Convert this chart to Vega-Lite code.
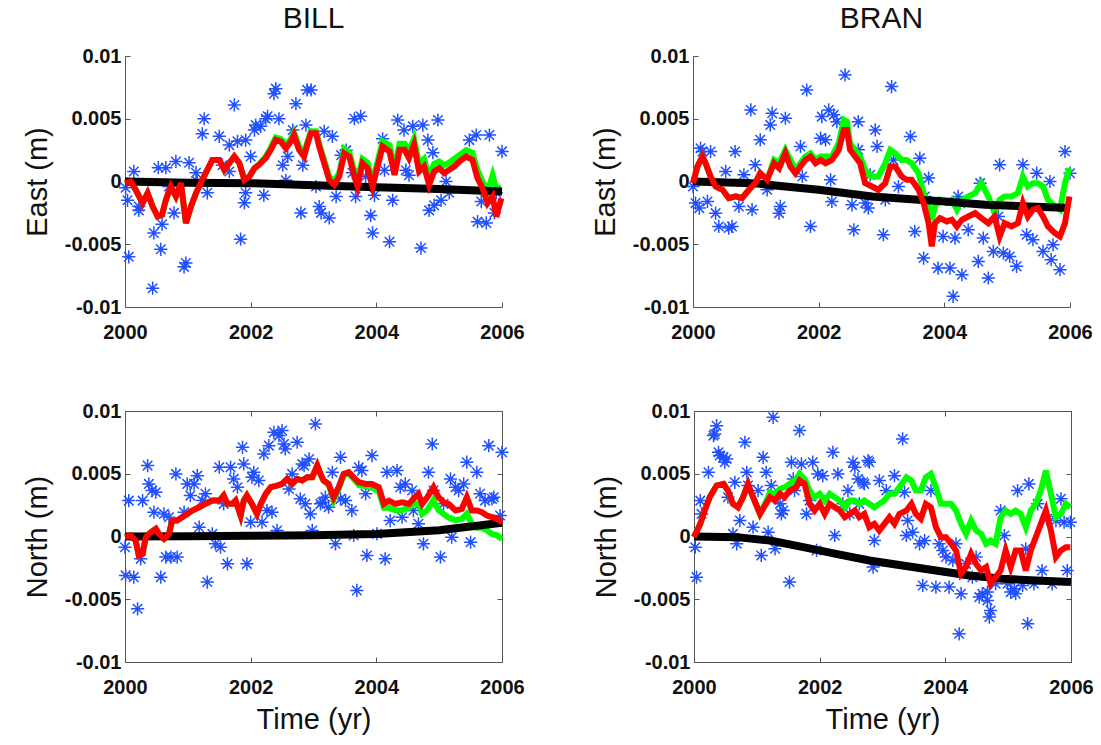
{
"$schema": "https://vega.github.io/schema/vega-lite/v6.json",
"background": "white",
"padding": {"left": 22, "top": 4, "right": 10, "bottom": 5},
"config": {
 "view": {"stroke": "#555", "strokeWidth": 1},
 "font": "Liberation Sans",
 "axis": {"grid": false, "domainColor": "#555", "tickColor": "#555", "tickSize": -5, "labelFont": "Liberation Sans", "labelFontSize": 20, "labelFontWeight": "bold", "labelColor": "#111", "titleFont": "Liberation Sans", "titleFontSize": 29, "titleFontWeight": "normal", "titleColor": "#111"},
 "axisX": {"labelPadding": 20, "titlePadding": 8, "labelFlush": false},
 "axisY": {"labelPadding": 9, "titlePadding": 12},
 "title": {"font": "Liberation Sans", "fontSize": 30, "fontWeight": "normal", "color": "#111", "offset": 12}
},
"datasets": {
"billE_pts": [
{"t":2000.14,"v":0.0008},{"t":2000.01,"v":-0.0005},{"t":2000.04,"v":-0.0015},{"t":2000.22,"v":-0.0023},{"t":2000.06,"v":-0.006},{"t":2000.44,"v":-0.0085},{"t":2000.46,"v":-0.0041},{"t":2000.57,"v":-0.0054},{"t":2000.59,"v":-0.0034},{"t":2000.53,"v":0.0011},{"t":2000.65,"v":0.0011},{"t":2000.81,"v":0.0016},{"t":2000.70,"v":-0.0004},{"t":2000.78,"v":-0.0025},{"t":2000.94,"v":-0.0068},{"t":2000.97,"v":-0.0065},{"t":2001.02,"v":0.0015},{"t":2001.13,"v":0.0007},{"t":2001.26,"v":0.005},{"t":2001.23,"v":0.0038},{"t":2001.31,"v":-0.0009},{"t":2001.50,"v":0.0036},{"t":2001.55,"v":0.0013},{"t":2001.66,"v":0.0029},{"t":2001.74,"v":0.0061},{"t":2001.79,"v":0.0032},{"t":2001.92,"v":0.0033},{"t":2001.84,"v":-0.0046},{"t":2001.90,"v":-0.0017},{"t":2001.92,"v":-0.0009},{"t":2002.00,"v":0.002},{"t":2002.06,"v":0.0041},{"t":2002.08,"v":0.0045},{"t":2002.16,"v":0.0044},{"t":2002.24,"v":0.005},{"t":2002.27,"v":0.0052},{"t":2002.21,"v":-0.0011},{"t":2002.40,"v":0.0074},{"t":2002.37,"v":0.007},{"t":2002.45,"v":0.005},{"t":2002.51,"v":0.0013},{"t":2002.56,"v":0.0001},{"t":2002.59,"v":0.002},{"t":2002.67,"v":0.0041},{"t":2002.72,"v":0.0062},{"t":2002.80,"v":-0.0025},{"t":2002.83,"v":0.0013},{"t":2002.88,"v":0.0045},{"t":2002.90,"v":0.0073},{"t":2002.96,"v":0.0073},{"t":2003.04,"v":-0.0004},{"t":2003.09,"v":-0.002},{"t":2003.12,"v":-0.0025},{"t":2003.17,"v":0.004},{"t":2003.25,"v":-0.0029},{"t":2003.30,"v":0.0036},{"t":2003.36,"v":-0.0012},{"t":2003.44,"v":0.0021},{"t":2003.52,"v":0.0025},{"t":2003.65,"v":0.005},{"t":2003.67,"v":-0.0012},{"t":2003.75,"v":0.0052},{"t":2003.83,"v":0.0004},{"t":2003.91,"v":-0.0027},{"t":2003.94,"v":-0.0041},{"t":2003.97,"v":-0.0011},{"t":2004.10,"v":0.0034},{"t":2004.13,"v":0.0009},{"t":2004.21,"v":-0.0048},{"t":2004.26,"v":-0.0015},{"t":2004.34,"v":0.0049},{"t":2004.44,"v":0.0041},{"t":2004.47,"v":0.0009},{"t":2004.52,"v":0.0005},{"t":2004.58,"v":0.0044},{"t":2004.71,"v":-0.0053},{"t":2004.74,"v":0.0045},{"t":2004.82,"v":0.0033},{"t":2004.84,"v":-0.0023},{"t":2004.90,"v":0.0023},{"t":2004.92,"v":-0.0019},{"t":2004.98,"v":0.0049},{"t":2005.03,"v":-0.0015},{"t":2005.16,"v":-0.0009},{"t":2005.48,"v":0.0033},{"t":2005.59,"v":0.0037},{"t":2005.61,"v":-0.0032},{"t":2005.75,"v":-0.0033},{"t":2005.80,"v":0.0037},{"t":2005.88,"v":-0.0025},{"t":2006.00,"v":0.0024},{"t":2005.91,"v":-0.0009},{"t":2005.67,"v":-0.0016},{"t":2005.11,"v":0.0},{"t":2003.62,"v":0.0007},{"t":2001.66,"v":0.0008},{"t":2001.15,"v":0.0},{"t":2000.22,"v":-0.002}
],
"billE_green": [
{"t":2000.00,"v":-0.00013},{"t":2000.09,"v":0.0},{"t":2000.17,"v":-0.00066},{"t":2000.28,"v":-0.00172},{"t":2000.36,"v":-0.00093},{"t":2000.44,"v":-0.00199},{"t":2000.52,"v":-0.00279},{"t":2000.59,"v":-0.00265},{"t":2000.65,"v":-0.00146},{"t":2000.73,"v":-0.0004},{"t":2000.81,"v":-0.00119},{"t":2000.89,"v":-0.00013},{"t":2000.97,"v":-0.00332},{"t":2001.05,"v":-0.00199},{"t":2001.13,"v":-0.00093},{"t":2001.23,"v":0.00013},{"t":2001.31,"v":0.00093},{"t":2001.39,"v":0.00172},{"t":2001.50,"v":0.00172},{"t":2001.58,"v":0.00093},{"t":2001.66,"v":0.00146},{"t":2001.74,"v":0.00199},{"t":2001.82,"v":0.00146},{"t":2001.90,"v":0.00013},{"t":2001.98,"v":0.0004},{"t":2002.06,"v":0.00106},{"t":2002.13,"v":0.00133},{"t":2002.24,"v":0.002},{"t":2002.32,"v":0.0027},{"t":2002.40,"v":0.0035},{"t":2002.48,"v":0.0034},{"t":2002.56,"v":0.0029},{"t":2002.64,"v":0.0034},{"t":2002.69,"v":0.0039},{"t":2002.77,"v":0.0028},{"t":2002.85,"v":0.0023},{"t":2002.90,"v":0.0031},{"t":2002.96,"v":0.004},{"t":2003.04,"v":0.004},{"t":2003.09,"v":0.003},{"t":2003.17,"v":0.0017},{"t":2003.25,"v":0.0004},{"t":2003.33,"v":0.0},{"t":2003.41,"v":0.0007},{"t":2003.49,"v":0.0026},{"t":2003.57,"v":0.0023},{"t":2003.65,"v":0.0008},{"t":2003.70,"v":0.0},{"t":2003.78,"v":0.0018},{"t":2003.86,"v":0.0015},{"t":2003.94,"v":0.0},{"t":2004.02,"v":0.0016},{"t":2004.10,"v":0.0032},{"t":2004.21,"v":0.0029},{"t":2004.29,"v":0.001},{"t":2004.37,"v":0.003},{"t":2004.45,"v":0.003},{"t":2004.52,"v":0.0024},{"t":2004.60,"v":0.0034},{"t":2004.68,"v":0.0014},{"t":2004.76,"v":0.0018},{"t":2004.84,"v":0.0004},{"t":2004.92,"v":0.0014},{"t":2005.00,"v":0.0016},{"t":2005.08,"v":0.0013},{"t":2005.16,"v":0.0015},{"t":2005.24,"v":0.0018},{"t":2005.32,"v":0.0021},{"t":2005.43,"v":0.0025},{"t":2005.53,"v":0.0023},{"t":2005.61,"v":0.0009},{"t":2005.69,"v":0.0},{"t":2005.77,"v":-0.0008},{"t":2005.85,"v":0.0005},{"t":2005.91,"v":-0.0006},{"t":2005.99,"v":-0.0005}
],
"billE_red": [
{"t":2000.00,"v":-0.00013},{"t":2000.09,"v":0.0},{"t":2000.17,"v":-0.00066},{"t":2000.28,"v":-0.00172},{"t":2000.36,"v":-0.00093},{"t":2000.44,"v":-0.00199},{"t":2000.52,"v":-0.00279},{"t":2000.59,"v":-0.00265},{"t":2000.65,"v":-0.00146},{"t":2000.73,"v":-0.0004},{"t":2000.81,"v":-0.00119},{"t":2000.89,"v":-0.00013},{"t":2000.97,"v":-0.00332},{"t":2001.05,"v":-0.00199},{"t":2001.13,"v":-0.00093},{"t":2001.23,"v":0.00013},{"t":2001.31,"v":0.00093},{"t":2001.39,"v":0.00172},{"t":2001.50,"v":0.00172},{"t":2001.58,"v":0.00093},{"t":2001.66,"v":0.00146},{"t":2001.74,"v":0.00199},{"t":2001.82,"v":0.00146},{"t":2001.90,"v":0.00013},{"t":2001.98,"v":0.0004},{"t":2002.06,"v":0.00106},{"t":2002.13,"v":0.00133},{"t":2002.24,"v":0.00186},{"t":2002.32,"v":0.00252},{"t":2002.40,"v":0.00332},{"t":2002.48,"v":0.00318},{"t":2002.56,"v":0.00265},{"t":2002.64,"v":0.00318},{"t":2002.69,"v":0.00371},{"t":2002.77,"v":0.00252},{"t":2002.85,"v":0.00199},{"t":2002.90,"v":0.00292},{"t":2002.96,"v":0.00385},{"t":2003.04,"v":0.00385},{"t":2003.09,"v":0.00279},{"t":2003.17,"v":0.00146},{"t":2003.25,"v":0.00013},{"t":2003.33,"v":-0.00027},{"t":2003.41,"v":0.0004},{"t":2003.49,"v":0.00225},{"t":2003.57,"v":0.00199},{"t":2003.65,"v":0.0004},{"t":2003.70,"v":-0.0004},{"t":2003.78,"v":0.00146},{"t":2003.86,"v":0.00106},{"t":2003.94,"v":-0.0004},{"t":2004.02,"v":0.00119},{"t":2004.10,"v":0.00279},{"t":2004.21,"v":0.00239},{"t":2004.29,"v":0.00053},{"t":2004.37,"v":0.00252},{"t":2004.45,"v":0.00252},{"t":2004.52,"v":0.00186},{"t":2004.60,"v":0.00292},{"t":2004.68,"v":0.0008},{"t":2004.76,"v":0.00119},{"t":2004.84,"v":-0.00027},{"t":2004.92,"v":0.0008},{"t":2005.00,"v":0.00106},{"t":2005.08,"v":0.00066},{"t":2005.16,"v":0.00093},{"t":2005.24,"v":0.00119},{"t":2005.32,"v":0.00159},{"t":2005.43,"v":0.00199},{"t":2005.53,"v":0.00172},{"t":2005.61,"v":0.00027},{"t":2005.69,"v":-0.00053},{"t":2005.77,"v":-0.00172},{"t":2005.85,"v":-0.00119},{"t":2005.91,"v":-0.00279},{"t":2005.99,"v":-0.00133}
],
"billE_black": [
{"t":2000,"v":0.0},{"t":2001,"v":-0.0001},{"t":2002,"v":-0.00013},{"t":2003,"v":-0.0003},{"t":2004,"v":-0.00045},{"t":2005,"v":-0.0006},{"t":2006,"v":-0.0008}
],
"branE_pts": [
{"t":2000.00,"v":-0.0004},{"t":2000.12,"v":0.00265},{"t":2000.15,"v":0.00239},{"t":2000.28,"v":0.00239},{"t":2000.04,"v":-0.00172},{"t":2000.10,"v":-0.00212},{"t":2000.23,"v":-0.00159},{"t":2000.36,"v":-0.00252},{"t":2000.41,"v":-0.00358},{"t":2000.57,"v":-0.00371},{"t":2000.62,"v":-0.00358},{"t":2000.52,"v":0.0008},{"t":2000.67,"v":0.00239},{"t":2000.81,"v":0.00053},{"t":2000.73,"v":-0.00199},{"t":2000.92,"v":0.0057},{"t":2000.94,"v":-0.00225},{"t":2000.99,"v":0.00133},{"t":2001.07,"v":0.00332},{"t":2001.23,"v":0.00451},{"t":2001.26,"v":0.00544},{"t":2001.47,"v":0.00504},{"t":2001.37,"v":-0.00252},{"t":2001.39,"v":-0.00199},{"t":2001.18,"v":-0.00066},{"t":2001.71,"v":0.00279},{"t":2001.74,"v":0.0004},{"t":2001.81,"v":0.00729},{"t":2001.87,"v":-0.00358},{"t":2002.03,"v":0.00345},{"t":2002.05,"v":0.00517},{"t":2002.11,"v":0.00332},{"t":2002.16,"v":0.0057},{"t":2002.19,"v":0.00013},{"t":2002.21,"v":-0.00159},{"t":2002.24,"v":0.00531},{"t":2002.29,"v":0.00477},{"t":2002.42,"v":0.00849},{"t":2002.53,"v":-0.00186},{"t":2002.56,"v":-0.00385},{"t":2002.63,"v":0.00477},{"t":2002.63,"v":0.00252},{"t":2002.74,"v":-0.00172},{"t":2002.79,"v":-0.00212},{"t":2002.82,"v":0.00053},{"t":2002.90,"v":0.00411},{"t":2002.93,"v":0.00279},{"t":2003.03,"v":-0.00424},{"t":2003.06,"v":-0.00146},{"t":2003.16,"v":0.00756},{"t":2003.19,"v":0.00172},{"t":2003.27,"v":-0.0004},{"t":2003.46,"v":0.00358},{"t":2003.53,"v":-0.00398},{"t":2003.61,"v":0.00186},{"t":2003.67,"v":-0.0061},{"t":2003.69,"v":-0.00119},{"t":2003.75,"v":0.00027},{"t":2003.90,"v":-0.0069},{"t":2003.98,"v":-0.00438},{"t":2004.09,"v":-0.0069},{"t":2004.17,"v":-0.00451},{"t":2004.14,"v":-0.00915},{"t":2004.22,"v":-0.00119},{"t":2004.28,"v":-0.00743},{"t":2004.38,"v":-0.00385},{"t":2004.54,"v":-0.00637},{"t":2004.57,"v":-0.00013},{"t":2004.62,"v":-0.00451},{"t":2004.70,"v":-0.00769},{"t":2004.78,"v":-0.00557},{"t":2004.88,"v":0.00133},{"t":2004.94,"v":-0.0057},{"t":2005.04,"v":-0.00597},{"t":2005.15,"v":-0.00676},{"t":2005.25,"v":0.00133},{"t":2005.31,"v":-0.00424},{"t":2005.41,"v":-0.00464},{"t":2005.47,"v":0.00066},{"t":2005.57,"v":-0.00557},{"t":2005.68,"v":0.0},{"t":2005.70,"v":-0.00623},{"t":2005.84,"v":-0.00703},{"t":2005.92,"v":0.00239},{"t":2006.00,"v":0.00066},{"t":2005.73,"v":-0.00504},{"t":2004.25,"v":-0.00172},{"t":2004.86,"v":-0.00279}
],
"branE_green": [
{"t":2000.00,"v":-0.00013},{"t":2000.07,"v":0.00119},{"t":2000.15,"v":0.00199},{"t":2000.20,"v":0.00146},{"t":2000.28,"v":0.0004},{"t":2000.36,"v":-0.0004},{"t":2000.47,"v":-0.00066},{"t":2000.57,"v":-0.00133},{"t":2000.68,"v":-0.00119},{"t":2000.78,"v":-0.00133},{"t":2000.89,"v":-0.00066},{"t":2000.99,"v":-0.00013},{"t":2001.07,"v":0.00066},{"t":2001.18,"v":0.00013},{"t":2001.29,"v":0.00172},{"t":2001.37,"v":0.00146},{"t":2001.47,"v":0.00252},{"t":2001.55,"v":0.00172},{"t":2001.63,"v":0.00093},{"t":2001.71,"v":0.00146},{"t":2001.79,"v":0.00199},{"t":2001.87,"v":0.00225},{"t":2001.95,"v":0.00172},{"t":2002.03,"v":0.00199},{"t":2002.11,"v":0.00199},{"t":2002.21,"v":0.00199},{"t":2002.32,"v":0.00305},{"t":2002.40,"v":0.00491},{"t":2002.45,"v":0.00477},{"t":2002.50,"v":0.00305},{"t":2002.58,"v":0.00252},{"t":2002.66,"v":0.00199},{"t":2002.74,"v":0.00093},{"t":2002.85,"v":0.0004},{"t":2002.95,"v":0.0004},{"t":2003.06,"v":0.00146},{"t":2003.14,"v":0.00252},{"t":2003.22,"v":0.00225},{"t":2003.32,"v":0.00172},{"t":2003.40,"v":0.00172},{"t":2003.48,"v":0.00146},{"t":2003.59,"v":0.00066},{"t":2003.67,"v":-0.00093},{"t":2003.75,"v":-0.00199},{"t":2003.80,"v":-0.00305},{"t":2003.85,"v":-0.00199},{"t":2003.93,"v":-0.00146},{"t":2004.04,"v":-0.00172},{"t":2004.12,"v":-0.00146},{"t":2004.20,"v":-0.00225},{"t":2004.28,"v":-0.00146},{"t":2004.38,"v":-0.00119},{"t":2004.49,"v":-0.00093},{"t":2004.59,"v":-0.00013},{"t":2004.70,"v":-0.00119},{"t":2004.80,"v":-0.00252},{"t":2004.88,"v":-0.00146},{"t":2004.96,"v":-0.00119},{"t":2005.07,"v":-0.00119},{"t":2005.17,"v":-0.00093},{"t":2005.25,"v":0.0004},{"t":2005.33,"v":-0.0004},{"t":2005.41,"v":-0.00013},{"t":2005.49,"v":-0.00013},{"t":2005.57,"v":-0.0004},{"t":2005.65,"v":-0.00146},{"t":2005.76,"v":-0.00199},{"t":2005.84,"v":-0.00225},{"t":2005.92,"v":-0.00013},{"t":2005.99,"v":0.00106}
],
"branE_red": [
{"t":2000.00,"v":-0.00013},{"t":2000.07,"v":0.00119},{"t":2000.15,"v":0.00199},{"t":2000.20,"v":0.00146},{"t":2000.28,"v":0.0004},{"t":2000.36,"v":-0.0004},{"t":2000.47,"v":-0.00066},{"t":2000.57,"v":-0.00133},{"t":2000.68,"v":-0.00119},{"t":2000.78,"v":-0.00133},{"t":2000.89,"v":-0.00066},{"t":2000.99,"v":-0.00013},{"t":2001.07,"v":0.00066},{"t":2001.18,"v":0.00013},{"t":2001.29,"v":0.00146},{"t":2001.37,"v":0.00106},{"t":2001.47,"v":0.00225},{"t":2001.55,"v":0.00119},{"t":2001.63,"v":0.00066},{"t":2001.71,"v":0.00119},{"t":2001.79,"v":0.00172},{"t":2001.87,"v":0.00199},{"t":2001.95,"v":0.00146},{"t":2002.03,"v":0.00172},{"t":2002.11,"v":0.00146},{"t":2002.21,"v":0.00172},{"t":2002.32,"v":0.00252},{"t":2002.40,"v":0.00411},{"t":2002.45,"v":0.00411},{"t":2002.50,"v":0.00252},{"t":2002.58,"v":0.00199},{"t":2002.66,"v":0.00146},{"t":2002.74,"v":-0.00013},{"t":2002.85,"v":-0.0004},{"t":2002.95,"v":-0.00066},{"t":2003.06,"v":-0.00013},{"t":2003.14,"v":0.00119},{"t":2003.22,"v":0.00119},{"t":2003.32,"v":0.0004},{"t":2003.40,"v":0.00013},{"t":2003.48,"v":0.00013},{"t":2003.59,"v":-0.00066},{"t":2003.67,"v":-0.00172},{"t":2003.75,"v":-0.00332},{"t":2003.80,"v":-0.00517},{"t":2003.85,"v":-0.00332},{"t":2003.93,"v":-0.00292},{"t":2004.04,"v":-0.00318},{"t":2004.12,"v":-0.00305},{"t":2004.20,"v":-0.00358},{"t":2004.28,"v":-0.00305},{"t":2004.38,"v":-0.00279},{"t":2004.49,"v":-0.00252},{"t":2004.59,"v":-0.00292},{"t":2004.70,"v":-0.00332},{"t":2004.80,"v":-0.00279},{"t":2004.88,"v":-0.00438},{"t":2004.96,"v":-0.00332},{"t":2005.07,"v":-0.00358},{"t":2005.17,"v":-0.00332},{"t":2005.25,"v":-0.00172},{"t":2005.33,"v":-0.00279},{"t":2005.41,"v":-0.00225},{"t":2005.49,"v":-0.00212},{"t":2005.57,"v":-0.00279},{"t":2005.65,"v":-0.00358},{"t":2005.76,"v":-0.00411},{"t":2005.84,"v":-0.00438},{"t":2005.92,"v":-0.00332},{"t":2005.99,"v":-0.00119}
],
"branE_black": [
{"t":2000,"v":0.0},{"t":2000.94,"v":-0.00013},{"t":2001.47,"v":-0.0004},{"t":2002.0,"v":-0.00066},{"t":2002.85,"v":-0.00119},{"t":2003.59,"v":-0.00146},{"t":2004.01,"v":-0.00159},{"t":2004.65,"v":-0.00186},{"t":2006,"v":-0.00212}
],
"billN_pts": [
{"t":2000.00,"v":-0.00085},{"t":2000.06,"v":0.00286},{"t":2000.01,"v":-0.0031},{"t":2000.14,"v":-0.00324},{"t":2000.20,"v":-0.00576},{"t":2000.25,"v":-0.00178},{"t":2000.28,"v":0.00286},{"t":2000.36,"v":0.00565},{"t":2000.38,"v":0.00419},{"t":2000.43,"v":0.00366},{"t":2000.49,"v":0.00353},{"t":2000.46,"v":0.00194},{"t":2000.57,"v":-0.00324},{"t":2000.62,"v":0.0018},{"t":2000.65,"v":-0.00164},{"t":2000.70,"v":0.00154},{"t":2000.73,"v":-0.00164},{"t":2000.83,"v":-0.00164},{"t":2000.81,"v":0.00499},{"t":2000.94,"v":0.00194},{"t":2000.99,"v":0.00419},{"t":2001.04,"v":0.00326},{"t":2001.10,"v":0.00419},{"t":2001.15,"v":0.00485},{"t":2001.18,"v":0.00074},{"t":2001.23,"v":0.00286},{"t":2001.28,"v":0.0034},{"t":2001.31,"v":-0.00363},{"t":2001.39,"v":0.00021},{"t":2001.44,"v":-0.00058},{"t":2001.50,"v":0.00552},{"t":2001.52,"v":-0.00085},{"t":2001.57,"v":0.0026},{"t":2001.63,"v":-0.00218},{"t":2001.68,"v":0.00552},{"t":2001.73,"v":0.00459},{"t":2001.79,"v":0.00393},{"t":2001.87,"v":0.00711},{"t":2001.89,"v":0.00578},{"t":2001.94,"v":-0.00218},{"t":2002.00,"v":0.00114},{"t":2002.02,"v":0.00472},{"t":2002.05,"v":0.00512},{"t":2002.13,"v":0.00446},{"t":2002.18,"v":0.00114},{"t":2002.21,"v":0.00658},{"t":2002.26,"v":0.00207},{"t":2002.29,"v":0.00724},{"t":2002.34,"v":0.00194},{"t":2002.37,"v":0.0083},{"t":2002.42,"v":0.00048},{"t":2002.45,"v":0.00804},{"t":2002.50,"v":0.00844},{"t":2002.53,"v":0.00737},{"t":2002.55,"v":0.00698},{"t":2002.61,"v":0.00379},{"t":2002.66,"v":0.00499},{"t":2002.74,"v":0.00751},{"t":2002.79,"v":0.003},{"t":2002.82,"v":0.00578},{"t":2002.85,"v":0.00565},{"t":2002.87,"v":0.0026},{"t":2002.93,"v":0.00618},{"t":2002.95,"v":0.0018},{"t":2002.98,"v":0.00048},{"t":2003.03,"v":0.00897},{"t":2003.11,"v":0.0026},{"t":2003.14,"v":0.00273},{"t":2003.19,"v":0.00313},{"t":2003.24,"v":0.00233},{"t":2003.30,"v":0.00512},{"t":2003.35,"v":-0.00058},{"t":2003.43,"v":0.00631},{"t":2003.43,"v":0.003},{"t":2003.51,"v":0.00286},{"t":2003.61,"v":0.00207},{"t":2003.64,"v":0.00008},{"t":2003.69,"v":-0.0043},{"t":2003.72,"v":0.00552},{"t":2003.77,"v":0.00525},{"t":2003.83,"v":0.0034},{"t":2003.85,"v":-0.00151},{"t":2003.93,"v":0.00645},{"t":2004.01,"v":0.00021},{"t":2004.14,"v":-0.00178},{"t":2004.17,"v":0.00512},{"t":2004.22,"v":0.00127},{"t":2004.33,"v":0.00525},{"t":2004.38,"v":0.00393},{"t":2004.41,"v":0.00154},{"t":2004.46,"v":0.00419},{"t":2004.57,"v":0.00366},{"t":2004.59,"v":0.00207},{"t":2004.67,"v":0.00101},{"t":2004.75,"v":-0.00058},{"t":2004.83,"v":0.00512},{"t":2004.89,"v":0.00737},{"t":2004.91,"v":0.00366},{"t":2005.02,"v":-0.00164},{"t":2005.07,"v":0.0026},{"t":2005.18,"v":0.00459},{"t":2005.20,"v":-0.00005},{"t":2005.26,"v":0.00393},{"t":2005.31,"v":0.00366},{"t":2005.39,"v":0.00419},{"t":2005.44,"v":0.00592},{"t":2005.50,"v":-0.00045},{"t":2005.60,"v":0.00512},{"t":2005.65,"v":0.0034},{"t":2005.73,"v":0.00286},{"t":2005.79,"v":0.00724},{"t":2005.84,"v":0.003},{"t":2005.87,"v":0.00313},{"t":2006.00,"v":0.00671},{"t":2005.97,"v":0.00167}
],
"billN_green": [
{"t":2000.00,"v":-0.00005},{"t":2000.09,"v":0.00008},{"t":2000.17,"v":-0.00032},{"t":2000.22,"v":-0.00151},{"t":2000.28,"v":-0.00138},{"t":2000.33,"v":-0.00005},{"t":2000.41,"v":0.00034},{"t":2000.49,"v":0.00061},{"t":2000.54,"v":0.00021},{"t":2000.62,"v":-0.00019},{"t":2000.70,"v":0.00021},{"t":2000.75,"v":0.00127},{"t":2000.83,"v":0.00127},{"t":2000.91,"v":0.00154},{"t":2000.99,"v":0.0018},{"t":2001.07,"v":0.00207},{"t":2001.18,"v":0.00233},{"t":2001.28,"v":0.0026},{"t":2001.39,"v":0.00286},{"t":2001.50,"v":0.00286},{"t":2001.57,"v":0.00326},{"t":2001.63,"v":0.0026},{"t":2001.71,"v":0.0026},{"t":2001.76,"v":0.00286},{"t":2001.84,"v":0.00167},{"t":2001.89,"v":0.00286},{"t":2001.94,"v":0.00326},{"t":2002.02,"v":0.0026},{"t":2002.10,"v":0.0018},{"t":2002.16,"v":0.0026},{"t":2002.24,"v":0.0034},{"t":2002.32,"v":0.00393},{"t":2002.42,"v":0.00406},{"t":2002.50,"v":0.00419},{"t":2002.58,"v":0.00459},{"t":2002.66,"v":0.00419},{"t":2002.74,"v":0.00459},{"t":2002.82,"v":0.00446},{"t":2002.90,"v":0.00472},{"t":2002.98,"v":0.00472},{"t":2003.06,"v":0.00565},{"t":2003.11,"v":0.00499},{"t":2003.16,"v":0.00446},{"t":2003.24,"v":0.00419},{"t":2003.32,"v":0.0029},{"t":2003.40,"v":0.0038},{"t":2003.48,"v":0.0049},{"t":2003.56,"v":0.005},{"t":2003.64,"v":0.0046},{"t":2003.72,"v":0.0041},{"t":2003.83,"v":0.004},{"t":2003.93,"v":0.0039},{"t":2004.04,"v":0.0036},{"t":2004.12,"v":0.0023},{"t":2004.20,"v":0.0023},{"t":2004.30,"v":0.0021},{"t":2004.41,"v":0.0021},{"t":2004.52,"v":0.0023},{"t":2004.59,"v":0.0026},{"t":2004.67,"v":0.0026},{"t":2004.73,"v":0.0018},{"t":2004.81,"v":0.0021},{"t":2004.91,"v":0.0029},{"t":2004.99,"v":0.0021},{"t":2005.07,"v":0.0018},{"t":2005.15,"v":0.0015},{"t":2005.26,"v":0.0013},{"t":2005.36,"v":0.0014},{"t":2005.44,"v":0.0018},{"t":2005.52,"v":0.001},{"t":2005.60,"v":0.0007},{"t":2005.68,"v":0.0007},{"t":2005.76,"v":0.0005},{"t":2005.84,"v":0.0002},{"t":2005.92,"v":0.0001},{"t":2006.00,"v":-0.0002}
],
"billN_red": [
{"t":2000.00,"v":-0.00005},{"t":2000.09,"v":0.00008},{"t":2000.17,"v":-0.00032},{"t":2000.22,"v":-0.00151},{"t":2000.28,"v":-0.00138},{"t":2000.33,"v":-0.00005},{"t":2000.41,"v":0.00034},{"t":2000.49,"v":0.00061},{"t":2000.54,"v":0.00021},{"t":2000.62,"v":-0.00019},{"t":2000.70,"v":0.00021},{"t":2000.75,"v":0.00127},{"t":2000.83,"v":0.00127},{"t":2000.91,"v":0.00154},{"t":2000.99,"v":0.0018},{"t":2001.07,"v":0.00207},{"t":2001.18,"v":0.00233},{"t":2001.28,"v":0.0026},{"t":2001.39,"v":0.00286},{"t":2001.50,"v":0.00286},{"t":2001.57,"v":0.00326},{"t":2001.63,"v":0.0026},{"t":2001.71,"v":0.0026},{"t":2001.76,"v":0.00286},{"t":2001.84,"v":0.00167},{"t":2001.89,"v":0.00286},{"t":2001.94,"v":0.00326},{"t":2002.02,"v":0.0026},{"t":2002.10,"v":0.0018},{"t":2002.16,"v":0.0026},{"t":2002.24,"v":0.0034},{"t":2002.32,"v":0.00393},{"t":2002.42,"v":0.00406},{"t":2002.50,"v":0.00419},{"t":2002.58,"v":0.00459},{"t":2002.66,"v":0.00419},{"t":2002.74,"v":0.00459},{"t":2002.82,"v":0.00446},{"t":2002.90,"v":0.00472},{"t":2002.98,"v":0.00472},{"t":2003.06,"v":0.00565},{"t":2003.11,"v":0.00499},{"t":2003.16,"v":0.00446},{"t":2003.24,"v":0.00419},{"t":2003.32,"v":0.00313},{"t":2003.40,"v":0.00393},{"t":2003.48,"v":0.00499},{"t":2003.56,"v":0.00512},{"t":2003.64,"v":0.00472},{"t":2003.72,"v":0.00432},{"t":2003.83,"v":0.00419},{"t":2003.93,"v":0.00419},{"t":2004.04,"v":0.00393},{"t":2004.12,"v":0.0026},{"t":2004.20,"v":0.00286},{"t":2004.30,"v":0.0026},{"t":2004.41,"v":0.00273},{"t":2004.52,"v":0.0026},{"t":2004.59,"v":0.003},{"t":2004.67,"v":0.0034},{"t":2004.73,"v":0.0026},{"t":2004.81,"v":0.00313},{"t":2004.91,"v":0.00393},{"t":2004.99,"v":0.00313},{"t":2005.07,"v":0.00273},{"t":2005.15,"v":0.0026},{"t":2005.26,"v":0.00207},{"t":2005.36,"v":0.0022},{"t":2005.44,"v":0.00313},{"t":2005.52,"v":0.00207},{"t":2005.60,"v":0.00207},{"t":2005.68,"v":0.00194},{"t":2005.76,"v":0.00167},{"t":2005.84,"v":0.00154},{"t":2005.92,"v":0.00141},{"t":2006.00,"v":0.00114}
],
"billN_black": [
{"t":2000,"v":0.0},{"t":2001,"v":0.00002},{"t":2002,"v":0.00005},{"t":2003,"v":0.0001},{"t":2004,"v":0.0002},{"t":2005,"v":0.0005},{"t":2006,"v":0.0011}
],
"branN_pts": [
{"t":2000.02,"v":-0.00085},{"t":2000.04,"v":-0.00324},{"t":2000.10,"v":0.00286},{"t":2000.12,"v":0.0018},{"t":2000.23,"v":0.00512},{"t":2000.31,"v":0.00804},{"t":2000.36,"v":0.00883},{"t":2000.33,"v":0.00817},{"t":2000.39,"v":0.00671},{"t":2000.41,"v":0.00645},{"t":2000.47,"v":0.00631},{"t":2000.49,"v":0.00592},{"t":2000.52,"v":0.00618},{"t":2000.54,"v":0.00313},{"t":2000.62,"v":0.00021},{"t":2000.65,"v":0.00432},{"t":2000.68,"v":-0.00058},{"t":2000.73,"v":0.00127},{"t":2000.81,"v":0.00751},{"t":2000.84,"v":0.00512},{"t":2000.86,"v":0.00406},{"t":2000.94,"v":0.00074},{"t":2001.02,"v":0.00366},{"t":2001.07,"v":-0.00151},{"t":2001.10,"v":0.00631},{"t":2001.15,"v":0.00512},{"t":2001.18,"v":0.00034},{"t":2001.23,"v":0.00406},{"t":2001.26,"v":0.0095},{"t":2001.29,"v":-0.00098},{"t":2001.37,"v":0.0026},{"t":2001.39,"v":0.0018},{"t":2001.42,"v":0.00207},{"t":2001.52,"v":-0.00363},{"t":2001.55,"v":0.00592},{"t":2001.58,"v":0.00459},{"t":2001.60,"v":0.00366},{"t":2001.68,"v":0.00844},{"t":2001.71,"v":0.00578},{"t":2001.79,"v":0.0018},{"t":2001.84,"v":0.00286},{"t":2001.89,"v":0.00592},{"t":2001.95,"v":-0.00111},{"t":2001.97,"v":0.00499},{"t":2002.05,"v":0.00485},{"t":2002.21,"v":0.00671},{"t":2002.24,"v":0.00008},{"t":2002.29,"v":0.00499},{"t":2002.37,"v":0.0026},{"t":2002.45,"v":0.00366},{"t":2002.48,"v":0.0018},{"t":2002.53,"v":0.00592},{"t":2002.56,"v":0.00552},{"t":2002.61,"v":0.00459},{"t":2002.63,"v":0.0026},{"t":2002.69,"v":0.00432},{"t":2002.71,"v":0.00419},{"t":2002.77,"v":0.00605},{"t":2002.79,"v":0.00592},{"t":2002.85,"v":-0.00244},{"t":2002.87,"v":-0.00032},{"t":2002.95,"v":0.00446},{"t":2003.06,"v":0.00366},{"t":2003.19,"v":0.00485},{"t":2003.32,"v":0.00777},{"t":2003.35,"v":0.00353},{"t":2003.38,"v":0.00008},{"t":2003.40,"v":0.00127},{"t":2003.48,"v":0.00034},{"t":2003.59,"v":-0.00058},{"t":2003.64,"v":-0.0039},{"t":2003.67,"v":-0.00032},{"t":2003.77,"v":0.00366},{"t":2003.85,"v":-0.00403},{"t":2003.90,"v":-0.00058},{"t":2003.96,"v":-0.00111},{"t":2004.01,"v":-0.00164},{"t":2004.06,"v":-0.00403},{"t":2004.12,"v":-0.00191},{"t":2004.17,"v":-0.00058},{"t":2004.22,"v":-0.00775},{"t":2004.25,"v":-0.00456},{"t":2004.33,"v":-0.00218},{"t":2004.43,"v":-0.00324},{"t":2004.49,"v":-0.00164},{"t":2004.54,"v":-0.00483},{"t":2004.59,"v":-0.00456},{"t":2004.67,"v":-0.00443},{"t":2004.67,"v":-0.00509},{"t":2004.70,"v":-0.00642},{"t":2004.72,"v":-0.00589},{"t":2004.80,"v":-0.00377},{"t":2004.88,"v":0.00207},{"t":2004.94,"v":0.00008},{"t":2004.99,"v":-0.00377},{"t":2005.04,"v":-0.00443},{"t":2005.10,"v":-0.00416},{"t":2005.12,"v":-0.00456},{"t":2005.15,"v":0.00366},{"t":2005.23,"v":-0.0039},{"t":2005.28,"v":-0.00098},{"t":2005.31,"v":-0.00695},{"t":2005.33,"v":0.00419},{"t":2005.41,"v":-0.00377},{"t":2005.47,"v":0.0026},{"t":2005.54,"v":-0.00271},{"t":2005.62,"v":0.00141},{"t":2005.70,"v":-0.00377},{"t":2005.76,"v":0.00127},{"t":2005.84,"v":0.003},{"t":2005.89,"v":0.00114},{"t":2005.94,"v":-0.00271},{"t":2005.99,"v":0.00114}
],
"branN_green": [
{"t":2000.00,"v":-0.00005},{"t":2000.10,"v":0.00101},{"t":2000.17,"v":0.00207},{"t":2000.25,"v":0.00313},{"t":2000.36,"v":0.00406},{"t":2000.47,"v":0.00419},{"t":2000.54,"v":0.00366},{"t":2000.62,"v":0.0026},{"t":2000.70,"v":0.00233},{"t":2000.78,"v":0.00313},{"t":2000.86,"v":0.00419},{"t":2000.94,"v":0.00313},{"t":2001.05,"v":0.0018},{"t":2001.13,"v":0.0026},{"t":2001.21,"v":0.00353},{"t":2001.29,"v":0.0034},{"t":2001.37,"v":0.00379},{"t":2001.44,"v":0.00393},{"t":2001.52,"v":0.00419},{"t":2001.63,"v":0.00459},{"t":2001.68,"v":0.00499},{"t":2001.76,"v":0.00459},{"t":2001.84,"v":0.00366},{"t":2001.92,"v":0.00313},{"t":2002.00,"v":0.0034},{"t":2002.08,"v":0.00286},{"t":2002.16,"v":0.0034},{"t":2002.24,"v":0.00313},{"t":2002.32,"v":0.00286},{"t":2002.40,"v":0.00233},{"t":2002.48,"v":0.00286},{"t":2002.56,"v":0.00286},{"t":2002.63,"v":0.0026},{"t":2002.71,"v":0.00286},{"t":2002.79,"v":0.0026},{"t":2002.87,"v":0.00233},{"t":2002.95,"v":0.0026},{"t":2003.03,"v":0.00286},{"t":2003.11,"v":0.0034},{"t":2003.19,"v":0.0034},{"t":2003.27,"v":0.00393},{"t":2003.38,"v":0.00472},{"t":2003.46,"v":0.00446},{"t":2003.53,"v":0.00366},{"t":2003.61,"v":0.00366},{"t":2003.69,"v":0.00472},{"t":2003.77,"v":0.00499},{"t":2003.85,"v":0.00393},{"t":2003.93,"v":0.0026},{"t":2004.01,"v":0.0026},{"t":2004.09,"v":0.0026},{"t":2004.17,"v":0.00207},{"t":2004.25,"v":0.00101},{"t":2004.33,"v":0.00021},{"t":2004.41,"v":0.00127},{"t":2004.49,"v":0.00048},{"t":2004.57,"v":0.00021},{"t":2004.65,"v":-0.00058},{"t":2004.72,"v":-0.00032},{"t":2004.80,"v":-0.00058},{"t":2004.88,"v":0.00154},{"t":2004.96,"v":0.00207},{"t":2005.04,"v":0.0018},{"t":2005.12,"v":0.00207},{"t":2005.20,"v":0.0018},{"t":2005.28,"v":0.00074},{"t":2005.36,"v":0.00207},{"t":2005.44,"v":0.0026},{"t":2005.52,"v":0.00366},{"t":2005.60,"v":0.00525},{"t":2005.68,"v":0.0034},{"t":2005.76,"v":0.00154},{"t":2005.84,"v":0.0018},{"t":2005.92,"v":0.0026},{"t":2005.99,"v":0.00233}
],
"branN_red": [
{"t":2000.00,"v":-0.00005},{"t":2000.10,"v":0.00101},{"t":2000.17,"v":0.00207},{"t":2000.25,"v":0.00313},{"t":2000.36,"v":0.00406},{"t":2000.47,"v":0.00419},{"t":2000.54,"v":0.00366},{"t":2000.62,"v":0.0026},{"t":2000.70,"v":0.00233},{"t":2000.78,"v":0.00313},{"t":2000.86,"v":0.00419},{"t":2000.94,"v":0.00313},{"t":2001.05,"v":0.0018},{"t":2001.13,"v":0.00247},{"t":2001.21,"v":0.00313},{"t":2001.29,"v":0.00286},{"t":2001.37,"v":0.0034},{"t":2001.44,"v":0.00313},{"t":2001.52,"v":0.00366},{"t":2001.63,"v":0.00393},{"t":2001.68,"v":0.00446},{"t":2001.76,"v":0.00419},{"t":2001.84,"v":0.0026},{"t":2001.92,"v":0.00207},{"t":2002.00,"v":0.0026},{"t":2002.08,"v":0.0018},{"t":2002.16,"v":0.0026},{"t":2002.24,"v":0.00233},{"t":2002.32,"v":0.00207},{"t":2002.40,"v":0.00154},{"t":2002.48,"v":0.0018},{"t":2002.56,"v":0.00207},{"t":2002.63,"v":0.00154},{"t":2002.71,"v":0.0018},{"t":2002.79,"v":0.00074},{"t":2002.87,"v":0.00101},{"t":2002.95,"v":0.00048},{"t":2003.03,"v":0.00101},{"t":2003.11,"v":0.00154},{"t":2003.19,"v":0.00101},{"t":2003.27,"v":0.0018},{"t":2003.38,"v":0.00207},{"t":2003.46,"v":0.0026},{"t":2003.53,"v":0.0018},{"t":2003.61,"v":0.00141},{"t":2003.69,"v":0.0026},{"t":2003.77,"v":0.00233},{"t":2003.85,"v":0.00074},{"t":2003.93,"v":-0.00005},{"t":2004.01,"v":-0.00005},{"t":2004.09,"v":-0.00058},{"t":2004.17,"v":-0.00111},{"t":2004.25,"v":-0.00297},{"t":2004.33,"v":-0.00244},{"t":2004.41,"v":-0.00138},{"t":2004.49,"v":-0.00218},{"t":2004.57,"v":-0.00271},{"t":2004.65,"v":-0.00244},{"t":2004.72,"v":-0.00377},{"t":2004.80,"v":-0.00324},{"t":2004.88,"v":-0.00271},{"t":2004.96,"v":-0.00111},{"t":2005.04,"v":-0.00244},{"t":2005.12,"v":-0.00111},{"t":2005.20,"v":-0.00111},{"t":2005.28,"v":-0.00271},{"t":2005.36,"v":-0.00111},{"t":2005.44,"v":-0.00005},{"t":2005.52,"v":0.00101},{"t":2005.60,"v":0.00207},{"t":2005.68,"v":0.00048},{"t":2005.76,"v":-0.00164},{"t":2005.84,"v":-0.00111},{"t":2005.92,"v":-0.00085},{"t":2005.99,"v":-0.00085}
],
"branN_black": [
{"t":2000,"v":0.0},{"t":2000.68,"v":-0.00005},{"t":2001.21,"v":-0.00032},{"t":2001.74,"v":-0.00085},{"t":2002.26,"v":-0.00138},{"t":2002.79,"v":-0.00191},{"t":2003.32,"v":-0.00231},{"t":2003.85,"v":-0.00271},{"t":2004.38,"v":-0.0031},{"t":2004.91,"v":-0.00337},{"t":2005.44,"v":-0.0035},{"t":2006,"v":-0.00363}
]
},
"vconcat": [
{"hconcat": [
 {"width": 377, "height": 251, "title": "BILL", "view": {"stroke": null},
  "layer": [
   {"data": {"name": "billE_pts"}, "mark": {"type": "point", "shape": "M0,-1L0,1M-1,0L1,0M-0.72,-0.72L0.72,0.72M-0.72,0.72L0.72,-0.72", "size": 175, "strokeWidth": 1.5, "color": "#2050ff", "filled": false, "opacity": 1},
    "encoding": {"x": {"field": "t", "type": "quantitative", "scale": {"domain": [2000, 2006]}, "axis": {"values": [2000, 2002, 2004, 2006], "format": "d", "title": null}},
                 "y": {"field": "v", "type": "quantitative", "scale": {"domain": [-0.01, 0.01]}, "axis": {"values": [-0.01, -0.005, 0, 0.005, 0.01], "labelExpr": "datum.value == 0 ? '0' : (datum.value < 0 ? '-' : '') + format(abs(datum.value), '~g')", "title": "East (m)"}}}},
   {"data": {"name": "billE_green"}, "mark": {"type": "line", "color": "#00ff00", "strokeWidth": 6}, "encoding": {"x": {"field": "t", "type": "quantitative"}, "y": {"field": "v", "type": "quantitative"}}},
   {"data": {"name": "billE_black"}, "mark": {"type": "line", "color": "#000000", "strokeWidth": 8}, "encoding": {"x": {"field": "t", "type": "quantitative"}, "y": {"field": "v", "type": "quantitative"}}},
   {"data": {"name": "billE_red"}, "mark": {"type": "line", "color": "#ff0000", "strokeWidth": 6}, "encoding": {"x": {"field": "t", "type": "quantitative"}, "y": {"field": "v", "type": "quantitative"}}}
  ]},
 {"width": 377, "height": 251, "title": "BRAN", "view": {"stroke": null},
  "layer": [
   {"data": {"name": "branE_pts"}, "mark": {"type": "point", "shape": "M0,-1L0,1M-1,0L1,0M-0.72,-0.72L0.72,0.72M-0.72,0.72L0.72,-0.72", "size": 175, "strokeWidth": 1.5, "color": "#2050ff", "filled": false, "opacity": 1},
    "encoding": {"x": {"field": "t", "type": "quantitative", "scale": {"domain": [2000, 2006]}, "axis": {"values": [2000, 2002, 2004, 2006], "format": "d", "title": null}},
                 "y": {"field": "v", "type": "quantitative", "scale": {"domain": [-0.01, 0.01]}, "axis": {"values": [-0.01, -0.005, 0, 0.005, 0.01], "labelExpr": "datum.value == 0 ? '0' : (datum.value < 0 ? '-' : '') + format(abs(datum.value), '~g')", "title": "East (m)"}}}},
   {"data": {"name": "branE_green"}, "mark": {"type": "line", "color": "#00ff00", "strokeWidth": 6}, "encoding": {"x": {"field": "t", "type": "quantitative"}, "y": {"field": "v", "type": "quantitative"}}},
   {"data": {"name": "branE_black"}, "mark": {"type": "line", "color": "#000000", "strokeWidth": 8}, "encoding": {"x": {"field": "t", "type": "quantitative"}, "y": {"field": "v", "type": "quantitative"}}},
   {"data": {"name": "branE_red"}, "mark": {"type": "line", "color": "#ff0000", "strokeWidth": 6}, "encoding": {"x": {"field": "t", "type": "quantitative"}, "y": {"field": "v", "type": "quantitative"}}}
  ]}
 ], "spacing": 66},
{"hconcat": [
 {"width": 377, "height": 251,
  "resolve": {"axis": {"x": "independent", "y": "independent"}},
  "layer": [
   {"data": {"name": "billN_pts"}, "mark": {"type": "point", "shape": "M0,-1L0,1M-1,0L1,0M-0.72,-0.72L0.72,0.72M-0.72,0.72L0.72,-0.72", "size": 175, "strokeWidth": 1.5, "color": "#2050ff", "filled": false, "opacity": 1},
    "encoding": {"x": {"field": "t", "type": "quantitative", "scale": {"domain": [2000, 2006]}, "axis": {"values": [2000, 2002, 2004, 2006], "format": "d", "title": "Time (yr)"}},
                 "y": {"field": "v", "type": "quantitative", "scale": {"domain": [-0.01, 0.01]}, "axis": {"values": [-0.01, -0.005, 0, 0.005, 0.01], "labelExpr": "datum.value == 0 ? '0' : (datum.value < 0 ? '-' : '') + format(abs(datum.value), '~g')", "title": "North (m)"}}}},
   {"data": {"name": "billN_green"}, "mark": {"type": "line", "color": "#00ff00", "strokeWidth": 6}, "encoding": {"x": {"field": "t", "type": "quantitative", "axis": {"orient": "top", "values": [2000, 2002, 2004, 2006], "labels": false, "domain": true, "title": null}}, "y": {"field": "v", "type": "quantitative", "axis": {"orient": "right", "values": [-0.01, -0.005, 0, 0.005, 0.01], "labels": false, "domain": true, "title": null}}}},
   {"data": {"name": "billN_black"}, "mark": {"type": "line", "color": "#000000", "strokeWidth": 8}, "encoding": {"x": {"field": "t", "type": "quantitative", "axis": null}, "y": {"field": "v", "type": "quantitative", "axis": null}}},
   {"data": {"name": "billN_red"}, "mark": {"type": "line", "color": "#ff0000", "strokeWidth": 6}, "encoding": {"x": {"field": "t", "type": "quantitative", "axis": null}, "y": {"field": "v", "type": "quantitative", "axis": null}}}
  ]},
 {"width": 377, "height": 251,
  "resolve": {"axis": {"x": "independent", "y": "independent"}},
  "layer": [
   {"data": {"name": "branN_pts"}, "mark": {"type": "point", "shape": "M0,-1L0,1M-1,0L1,0M-0.72,-0.72L0.72,0.72M-0.72,0.72L0.72,-0.72", "size": 175, "strokeWidth": 1.5, "color": "#2050ff", "filled": false, "opacity": 1},
    "encoding": {"x": {"field": "t", "type": "quantitative", "scale": {"domain": [2000, 2006]}, "axis": {"values": [2000, 2002, 2004, 2006], "format": "d", "title": "Time (yr)"}},
                 "y": {"field": "v", "type": "quantitative", "scale": {"domain": [-0.01, 0.01]}, "axis": {"values": [-0.01, -0.005, 0, 0.005, 0.01], "labelExpr": "datum.value == 0 ? '0' : (datum.value < 0 ? '-' : '') + format(abs(datum.value), '~g')", "title": "North (m)"}}}},
   {"data": {"name": "branN_green"}, "mark": {"type": "line", "color": "#00ff00", "strokeWidth": 6}, "encoding": {"x": {"field": "t", "type": "quantitative", "axis": {"orient": "top", "values": [2000, 2002, 2004, 2006], "labels": false, "domain": true, "title": null}}, "y": {"field": "v", "type": "quantitative", "axis": {"orient": "right", "values": [-0.01, -0.005, 0, 0.005, 0.01], "labels": false, "domain": true, "title": null}}}},
   {"data": {"name": "branN_black"}, "mark": {"type": "line", "color": "#000000", "strokeWidth": 8}, "encoding": {"x": {"field": "t", "type": "quantitative", "axis": null}, "y": {"field": "v", "type": "quantitative", "axis": null}}},
   {"data": {"name": "branN_red"}, "mark": {"type": "line", "color": "#ff0000", "strokeWidth": 6}, "encoding": {"x": {"field": "t", "type": "quantitative", "axis": null}, "y": {"field": "v", "type": "quantitative", "axis": null}}}
  ]}
 ], "spacing": 66}
], "spacing": 58
}
